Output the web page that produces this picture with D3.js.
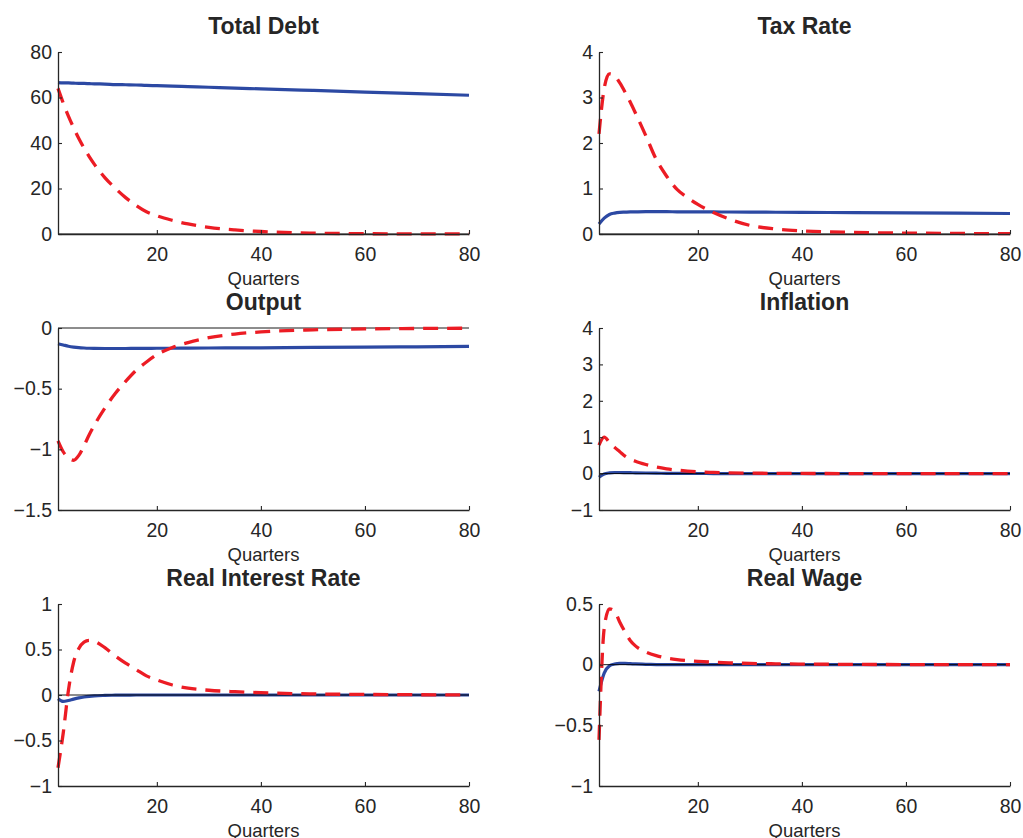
<!DOCTYPE html>
<html>
<head>
<meta charset="utf-8">
<script src="https://cdn.jsdelivr.net/npm/d3@7"></script>
<style>
  body { margin: 0; background: #fff; }
  svg { display: block; }
  text { font-family: "Liberation Sans", Arial, Helvetica, sans-serif; fill: #262626; }
</style>
</head>
<body>
<div id="chart"></div>
<script>
var quarters = [1, 2, 3, 4, 5, 6, 7, 8, 10, 12, 14, 16, 18, 20, 23, 26, 30, 35, 40, 50, 60, 70, 80];

var debtBlue = [66.5, 66.4, 66.4, 66.3, 66.2, 66.2, 66.1, 66.0, 65.9, 65.7, 65.6, 65.5, 65.3, 65.2, 65.0, 64.8, 64.5, 64.1, 63.8, 63.1, 62.4, 61.7, 61.0];
var debtRed = [64, 57.6, 51.8, 46.7, 42.0, 37.8, 34.0, 30.6, 24.8, 20.1, 16.0, 12.6, 9.8, 8.0, 6.0, 4.4, 2.9, 1.8, 1.1, 0.38, 0.13, 0.05, 0.02];

var taxBlue = [0.22, 0.35, 0.43, 0.46, 0.475, 0.48, 0.485, 0.487, 0.49, 0.49, 0.49, 0.488, 0.487, 0.486, 0.485, 0.483, 0.481, 0.478, 0.475, 0.47, 0.465, 0.458, 0.45];
var taxRed = [2.2, 3.2, 3.52, 3.48, 3.32, 3.12, 2.9, 2.66, 2.16, 1.64, 1.27, 0.98, 0.8, 0.65, 0.47, 0.33, 0.19, 0.11, 0.07, 0.035, 0.02, 0.012, 0.008];

var outputBlue = [-0.13, -0.14, -0.15, -0.157, -0.162, -0.165, -0.167, -0.168, -0.169, -0.169, -0.169, -0.168, -0.168, -0.167, -0.167, -0.166, -0.165, -0.164, -0.163, -0.16, -0.158, -0.155, -0.152];
var outputRed = [-0.93, -1.02, -1.07, -1.09, -1.05, -0.97, -0.88, -0.8, -0.66, -0.54, -0.44, -0.35, -0.28, -0.22, -0.16, -0.12, -0.08, -0.05, -0.032, -0.015, -0.008, -0.004, -0.002];

var inflBlue = [-0.1, -0.01, 0.02, 0.03, 0.03, 0.028, 0.025, 0.022, 0.016, 0.011, 0.008, 0.005, 0.004, 0.003, 0.002, 0.001, 0, 0, 0, 0, 0, 0, 0];
var inflRed = [0.78, 1.0, 0.86, 0.72, 0.6, 0.48, 0.4, 0.34, 0.25, 0.18, 0.13, 0.095, 0.07, 0.05, 0.033, 0.022, 0.013, 0.007, 0.004, 0.001, 0, 0, 0];

var rateBlue = [-0.04, -0.07, -0.06, -0.045, -0.032, -0.022, -0.015, -0.01, -0.005, -0.002, -0.001, 0, 0, 0, 0, 0, 0, 0, 0, 0, 0, 0, 0];
var rateRed = [-0.8, -0.42, 0.05, 0.36, 0.51, 0.58, 0.6, 0.59, 0.52, 0.43, 0.35, 0.28, 0.21, 0.165, 0.11, 0.075, 0.052, 0.036, 0.025, 0.012, 0.006, 0.003, 0.001];

var wageBlue = [-0.22, -0.07, -0.01, 0.005, 0.01, 0.01, 0.008, 0.006, 0.003, 0.001, 0, 0, 0, 0, 0, 0, 0, 0, 0, 0, 0, 0, 0];
var wageRed = [-0.62, 0.3, 0.46, 0.44, 0.35, 0.27, 0.2, 0.155, 0.105, 0.075, 0.055, 0.042, 0.033, 0.027, 0.02, 0.015, 0.01, 0.007, 0.005, 0.002, 0.001, 0, 0];

var titles = ["Total Debt", "Tax Rate", "Output", "Inflation", "Real Interest Rate", "Real Wage"];
var yDomains = [[0, 80], [0, 4], [-1.5, 0], [-1, 4], [-1, 1], [-1, 0.5]];
var yTicks = [[0, 20, 40, 60, 80], [0, 1, 2, 3, 4], [-1.5, -1, -0.5, 0], [-1, 0, 1, 2, 3, 4], [-1, -0.5, 0, 0.5, 1], [-1, -0.5, 0, 0.5]];
var xTicks = [20, 40, 60, 80];
var blueSeries = [debtBlue, taxBlue, outputBlue, inflBlue, rateBlue, wageBlue];
var redSeries = [debtRed, taxRed, outputRed, inflRed, rateRed, wageRed];

var width = 1023, height = 838;
var colLeft = [58, 599];
var plotW = 411;
var rowTop = [52, 328, 604];
var plotH = 182;

var blue = "#2c49a3", red = "#ec1c24", axisColor = "#262626";

var svg = d3.select("#chart").append("svg")
    .attr("width", width)
    .attr("height", height);

titles.forEach(function(title, i) {
  var left = colLeft[i % 2];
  var top = rowTop[Math.floor(i / 2)];

  var x = d3.scaleLinear().domain([1, 80]).range([0, plotW]);
  var y = d3.scaleLinear().domain(yDomains[i]).range([plotH, 0]);

  var g = svg.append("g").attr("transform", "translate(" + left + "," + top + ")");

  var line = d3.line()
      .x(function(d) { return x(d[0]); })
      .y(function(d) { return y(d[1]); })
      .curve(d3.curveMonotoneX);

  var bluePts = quarters.map(function(q, k) { return [q, blueSeries[i][k]]; });
  var redPts = quarters.map(function(q, k) { return [q, redSeries[i][k]]; });

  g.append("path")
    .attr("d", line(bluePts))
    .attr("fill", "none")
    .attr("stroke", blue)
    .attr("stroke-width", 3.2);

  // zero reference line
  g.append("line")
    .attr("x1", x(1)).attr("x2", x(80))
    .attr("y1", y(0)).attr("y2", y(0))
    .attr("stroke", "#000")
    .attr("stroke-width", 0.9);

  g.append("path")
    .attr("d", line(redPts))
    .attr("fill", "none")
    .attr("stroke", red)
    .attr("stroke-width", 3.3)
    .attr("stroke-dasharray", "15,9");

  var xAxis = d3.axisBottom(x)
      .tickValues(xTicks)
      .tickSizeInner(-4)
      .tickSizeOuter(0)
      .tickPadding(13)
      .tickFormat(d3.format(""));

  var yAxis = d3.axisLeft(y)
      .tickValues(yTicks[i])
      .tickSizeInner(-4)
      .tickSizeOuter(0)
      .tickPadding(6)
      .tickFormat(d3.format(""));

  var gx = g.append("g")
    .attr("transform", "translate(0," + plotH + ")")
    .call(xAxis);
  var gy = g.append("g").call(yAxis);

  [gx, gy].forEach(function(a) {
    a.selectAll("path").attr("stroke", axisColor).attr("stroke-width", 1.3);
    a.selectAll("line").attr("stroke", axisColor).attr("stroke-width", 1.1);
    a.selectAll("text")
      .attr("fill", axisColor)
      .style("font-size", "19.5px")
      .attr("font-family", "Liberation Sans, Arial, sans-serif");
  });

  g.append("text")
    .attr("x", plotW / 2)
    .attr("y", -18)
    .attr("text-anchor", "middle")
    .style("font-size", "23px")
    .style("font-weight", "bold")
    .text(title);

  g.append("text")
    .attr("x", plotW / 2)
    .attr("y", plotH + 51)
    .attr("text-anchor", "middle")
    .style("font-size", "18.5px")
    .text("Quarters");
});
</script>
</body>
</html>
